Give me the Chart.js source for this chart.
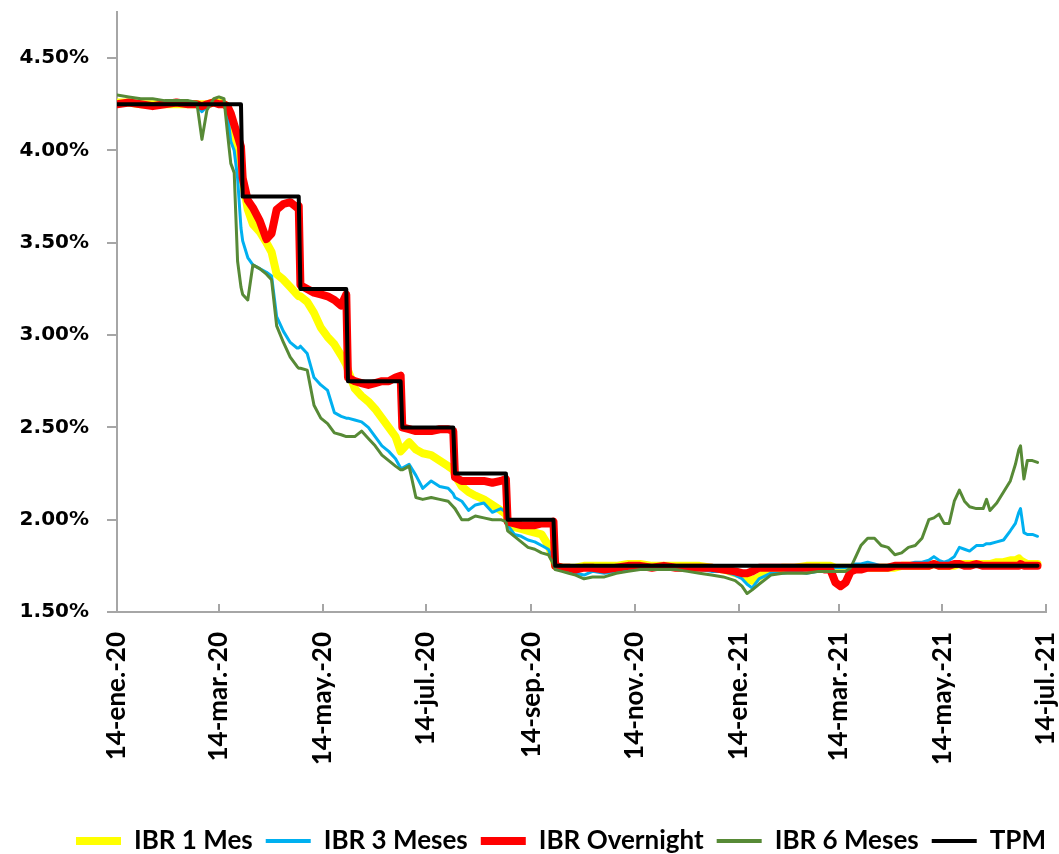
<!DOCTYPE html>
<html><head><meta charset="utf-8">
<script src="https://cdn.jsdelivr.net/npm/chart.js@4.4.1/dist/chart.umd.min.js"></script>
<style>html,body{margin:0;padding:0;background:#fff;overflow:hidden}#wrap{width:1059px;height:854px;position:relative}</style>
</head><body><div id="wrap"><canvas id="c" width="1059" height="854"></canvas></div>
<script>
const dates = [
'2020-01-14','2020-01-21','2020-01-28','2020-02-04','2020-02-11','2020-02-18','2020-02-25','2020-03-01',
'2020-03-04','2020-03-07','2020-03-11','2020-03-14','2020-03-17','2020-03-19','2020-03-21','2020-03-23','2020-03-25','2020-03-27',
'2020-03-28','2020-03-31','2020-04-03','2020-04-07','2020-04-11','2020-04-14','2020-04-17','2020-04-21','2020-04-25','2020-04-29',
'2020-04-30','2020-05-01','2020-05-05','2020-05-09','2020-05-13','2020-05-17','2020-05-21','2020-05-25','2020-05-28','2020-05-29',
'2020-06-02','2020-06-06','2020-06-10','2020-06-14','2020-06-18','2020-06-22','2020-06-26','2020-06-29','2020-06-30','2020-07-04',
'2020-07-08','2020-07-12','2020-07-17','2020-07-22','2020-07-27','2020-07-30','2020-07-31','2020-08-04','2020-08-08','2020-08-12',
'2020-08-17','2020-08-22','2020-08-27','2020-08-30','2020-08-31','2020-09-04','2020-09-08','2020-09-12','2020-09-16','2020-09-20',
'2020-09-24','2020-09-27','2020-09-28','2020-10-02','2020-10-06','2020-10-10','2020-10-15','2020-10-20','2020-10-27','2020-11-03',
'2020-11-10','2020-11-17','2020-11-24','2020-12-01','2020-12-08','2020-12-15','2020-12-22','2020-12-29','2021-01-05','2021-01-12',
'2021-01-16','2021-01-19','2021-01-22','2021-01-26','2021-02-02','2021-02-09','2021-02-16','2021-02-23','2021-03-02','2021-03-06',
'2021-03-09','2021-03-12','2021-03-15','2021-03-18','2021-03-21','2021-03-24','2021-03-27','2021-03-31','2021-04-04','2021-04-08',
'2021-04-12','2021-04-16','2021-04-20','2021-04-24','2021-04-28','2021-05-02','2021-05-06','2021-05-09','2021-05-12','2021-05-15',
'2021-05-18','2021-05-21','2021-05-24','2021-05-27','2021-05-30','2021-06-03','2021-06-07','2021-06-09','2021-06-11','2021-06-15',
'2021-06-19','2021-06-23','2021-06-26','2021-06-28','2021-06-29','2021-07-01','2021-07-03','2021-07-06',
'2021-07-09'];

const ibr1Mes = [
4.26,4.26,4.25,4.25,4.25,4.25,4.25,4.25,
4.25,4.25,4.26,4.26,4.25,4.24,4.18,4.12,4.00,3.90,
3.84,3.68,3.60,3.56,3.50,3.45,3.33,3.30,3.26,3.22,
3.21,3.21,3.18,3.12,3.04,2.99,2.95,2.89,2.84,2.81,
2.71,2.67,2.64,2.60,2.55,2.50,2.45,2.37,2.38,2.42,
2.38,2.36,2.35,2.32,2.29,2.27,2.24,2.18,2.15,2.13,
2.11,2.08,2.05,2.03,2.00,1.96,1.95,1.94,1.93,1.92,
1.86,1.79,1.75,1.74,1.74,1.74,1.75,1.75,1.75,1.75,
1.76,1.76,1.75,1.75,1.75,1.75,1.75,1.74,1.73,1.71,
1.70,1.68,1.67,1.69,1.73,1.74,1.74,1.75,1.75,1.75,
1.75,1.74,1.74,1.74,1.74,1.74,1.74,1.74,1.74,1.74,
1.74,1.74,1.75,1.75,1.75,1.75,1.75,1.76,1.75,1.75,
1.75,1.75,1.76,1.76,1.76,1.76,1.76,1.76,1.76,1.77,
1.77,1.78,1.78,1.79,1.78,1.77,1.76,1.76,
1.76];

const ibr3Meses = [
4.26,4.26,4.25,4.25,4.25,4.25,4.24,4.24,
4.21,4.24,4.26,4.26,4.25,4.20,4.05,4.00,3.85,3.58,
3.51,3.42,3.38,3.36,3.34,3.32,3.10,3.02,2.96,2.93,
2.93,2.94,2.90,2.77,2.73,2.70,2.58,2.56,2.55,2.55,
2.54,2.53,2.50,2.45,2.40,2.37,2.33,2.28,2.28,2.30,
2.24,2.17,2.21,2.18,2.17,2.14,2.12,2.10,2.05,2.08,
2.09,2.04,2.06,2.04,1.97,1.92,1.91,1.89,1.88,1.86,
1.84,1.77,1.74,1.73,1.72,1.71,1.70,1.72,1.71,1.72,
1.73,1.74,1.74,1.74,1.74,1.74,1.73,1.72,1.72,1.70,
1.68,1.65,1.63,1.68,1.71,1.71,1.72,1.71,1.72,1.73,
1.73,1.74,1.74,1.74,1.75,1.76,1.76,1.77,1.76,1.75,
1.75,1.76,1.76,1.76,1.77,1.77,1.78,1.80,1.78,1.77,
1.78,1.80,1.85,1.84,1.83,1.86,1.86,1.87,1.87,1.88,
1.89,1.94,1.98,2.04,2.06,1.93,1.92,1.92,
1.91];

const ibrOvernight = [
4.25,4.26,4.25,4.24,4.25,4.26,4.25,4.25,
4.24,4.25,4.26,4.25,4.25,4.24,4.20,4.14,4.08,4.02,
3.85,3.73,3.69,3.62,3.52,3.55,3.68,3.71,3.72,3.69,
3.70,3.27,3.25,3.23,3.22,3.21,3.19,3.16,3.22,2.77,
2.75,2.74,2.73,2.74,2.75,2.75,2.77,2.78,2.50,2.49,
2.48,2.48,2.48,2.49,2.49,2.48,2.23,2.21,2.21,2.21,
2.21,2.20,2.21,2.22,1.99,1.98,1.97,1.97,1.97,1.98,
1.98,1.99,1.75,1.74,1.74,1.73,1.74,1.74,1.73,1.74,
1.75,1.75,1.74,1.75,1.74,1.74,1.74,1.74,1.73,1.72,
1.71,1.71,1.72,1.74,1.74,1.74,1.74,1.74,1.74,1.73,
1.73,1.66,1.64,1.66,1.72,1.73,1.73,1.74,1.74,1.74,
1.74,1.75,1.75,1.75,1.75,1.75,1.75,1.76,1.75,1.75,
1.75,1.76,1.76,1.75,1.75,1.76,1.75,1.75,1.75,1.75,
1.75,1.75,1.75,1.75,1.76,1.75,1.75,1.75,
1.75];

const ibr6Meses = [
4.30,4.29,4.28,4.28,4.27,4.27,4.27,4.26,
4.06,4.22,4.28,4.29,4.28,4.10,3.93,3.88,3.40,3.26,
3.22,3.19,3.38,3.36,3.33,3.30,3.05,2.96,2.88,2.83,
2.82,2.82,2.81,2.62,2.55,2.52,2.47,2.46,2.45,2.45,
2.45,2.48,2.44,2.40,2.35,2.32,2.29,2.27,2.27,2.29,
2.12,2.11,2.12,2.11,2.10,2.07,2.06,2.00,2.00,2.02,
2.01,2.00,2.00,1.99,1.94,1.91,1.88,1.85,1.84,1.82,
1.81,1.76,1.73,1.72,1.71,1.70,1.68,1.69,1.69,1.71,
1.72,1.73,1.73,1.73,1.73,1.72,1.71,1.70,1.69,1.67,
1.64,1.60,1.62,1.65,1.70,1.71,1.71,1.71,1.72,1.72,
1.72,1.72,1.72,1.72,1.74,1.80,1.86,1.90,1.90,1.86,
1.85,1.81,1.82,1.85,1.86,1.90,2.00,2.01,2.03,1.98,
1.98,2.10,2.16,2.10,2.07,2.06,2.06,2.11,2.05,2.09,
2.15,2.21,2.30,2.38,2.40,2.22,2.32,2.32,
2.31];

const tpm = [
4.25,4.25,4.25,4.25,4.25,4.25,4.25,4.25,
4.25,4.25,4.25,4.25,4.25,4.25,4.25,4.25,4.25,4.25,
3.75,3.75,3.75,3.75,3.75,3.75,3.75,3.75,3.75,3.75,
3.75,3.25,3.25,3.25,3.25,3.25,3.25,3.25,3.25,2.75,
2.75,2.75,2.75,2.75,2.75,2.75,2.75,2.75,2.50,2.50,
2.50,2.50,2.50,2.50,2.50,2.50,2.25,2.25,2.25,2.25,
2.25,2.25,2.25,2.25,2.00,2.00,2.00,2.00,2.00,2.00,
2.00,2.00,1.75,1.75,1.75,1.75,1.75,1.75,1.75,1.75,
1.75,1.75,1.75,1.75,1.75,1.75,1.75,1.75,1.75,1.75,
1.75,1.75,1.75,1.75,1.75,1.75,1.75,1.75,1.75,1.75,
1.75,1.75,1.75,1.75,1.75,1.75,1.75,1.75,1.75,1.75,
1.75,1.75,1.75,1.75,1.75,1.75,1.75,1.75,1.75,1.75,
1.75,1.75,1.75,1.75,1.75,1.75,1.75,1.75,1.75,1.75,
1.75,1.75,1.75,1.75,1.75,1.75,1.75,1.75,
1.75];

const tickDates = ['2020-01-14','2020-03-14','2020-05-14','2020-07-14','2020-09-14','2020-11-14','2021-01-14','2021-03-14','2021-05-14','2021-07-14'];
const tickLabels = ['14-ene.-20','14-mar.-20','14-may.-20','14-jul.-20','14-sep.-20','14-nov.-20','14-ene.-21','14-mar.-21','14-may.-21','14-jul.-21'];
const yTicks = [1.5, 2.0, 2.5, 3.0, 3.5, 4.0, 4.5];

const origin = Date.parse('2020-01-14T00:00:00Z');
const dayOf = d => (Date.parse(d + 'T00:00:00Z') - origin) / 86400000;
const pts = vals => dates.map((d, i) => ({x: dayOf(d), y: vals[i]}));

const AXIS = '#A6A6A6';
const innerTicks = {
  id: 'innerTicks',
  beforeDatasetsDraw(chart) {
    const {ctx, chartArea} = chart;
    const xs = chart.scales.x;
    ctx.save();
    ctx.strokeStyle = AXIS; ctx.lineWidth = 2;
    xs.ticks.forEach(t => {
      const px = Math.round(xs.getPixelForValue(t.value));
      ctx.beginPath(); ctx.moveTo(px, chartArea.bottom); ctx.lineTo(px, chartArea.bottom - 8); ctx.stroke();
    });
    ctx.restore();
  }
};

const mk = (label, vals, color, width, order) => ({
  label, data: pts(vals), borderColor: color, backgroundColor: color, borderWidth: width,
  pointRadius: 0, tension: 0, fill: false, order, borderJoinStyle: 'round', borderCapStyle: 'round'
});

new Chart(document.getElementById('c'), {
  type: 'line',
  data: {
    datasets: [
      mk('IBR 1 Mes', ibr1Mes, '#FFFF00', 8, 4),
      mk('IBR 3 Meses', ibr3Meses, '#00B0F0', 3, 3),
      mk('IBR Overnight', ibrOvernight, '#FF0000', 8, 2),
      mk('IBR 6 Meses', ibr6Meses, '#578A36', 3, 1),
      mk('TPM', tpm, '#000000', 4, 0)
    ]
  },
  options: {
    responsive: false, animation: false, devicePixelRatio: 1,
    layout: {padding: {top: 12, right: 0, bottom: -10, left: 0}},
    plugins: {
      tooltip: {enabled: false},
      legend: {
        position: 'bottom', align: 'end',
        labels: {
          usePointStyle: true, pointStyleWidth: 45, padding: 13, color: '#000',
          font: {family: 'Lato', weight: 'bold', size: 26},
          generateLabels: chart => chart.data.datasets.map((ds, i) => ({
            text: ds.label, fillStyle: ds.borderColor, strokeStyle: ds.borderColor,
            lineWidth: Math.max(ds.borderWidth, 4), pointStyle: 'line', hidden: false,
            datasetIndex: i, fontColor: '#000', lineCap: 'butt'
          }))
        }
      }
    },
    scales: {
      x: {
        type: 'linear', min: 0, max: dayOf('2021-07-14'),
        grid: {display: false, drawTicks: false},
        border: {display: true, color: AXIS, width: 2},
        afterBuildTicks: s => { s.ticks = tickDates.map(d => ({value: dayOf(d)})); },
        afterFit: s => { s.height = 203; s.paddingLeft = 0; s.paddingRight = 13; s.paddingTop = 0; s.paddingBottom = 0; },
        ticks: {
          autoSkip: false, maxRotation: 90, minRotation: 90, padding: 20, color: '#000',
          font: {family: 'Lato', weight: 'bold', size: 26},
          callback: (v, i) => tickLabels[i]
        }
      },
      y: {
        min: 1.5, max: 4.75,
        grid: {display: true, drawOnChartArea: false, drawTicks: true, tickLength: 10, color: AXIS, lineWidth: 2},
        border: {display: true, color: AXIS, width: 2},
        afterBuildTicks: s => { s.ticks = yTicks.map(v => ({value: v})); },
        afterFit: s => { s.width = 117; s.paddingTop = 0; s.paddingBottom = 0; },
        ticks: {
          padding: 18, color: '#000',
          font: {family: 'DejaVu Sans', weight: 'bold', size: 20},
          callback: v => v.toFixed(2) + '%'
        }
      }
    }
  },
  plugins: [innerTicks]
});
</script>
</body></html>
